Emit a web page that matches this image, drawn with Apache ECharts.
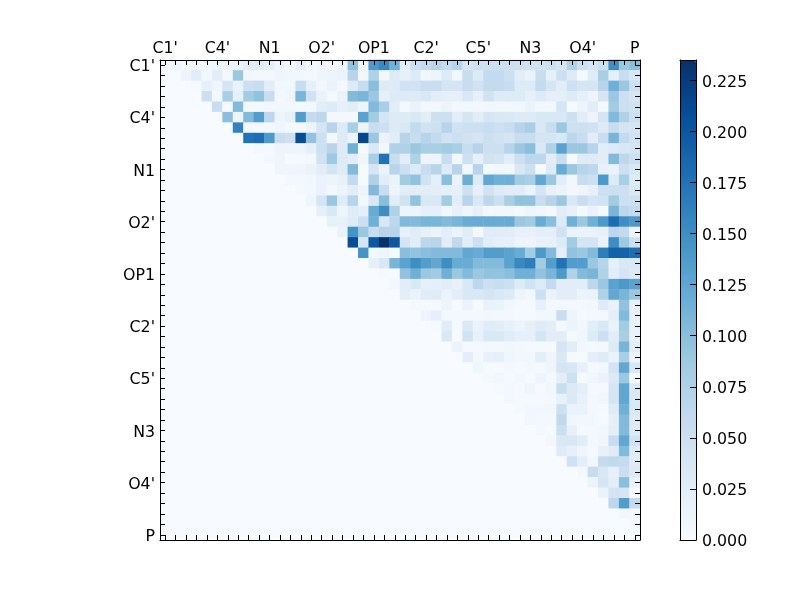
<!DOCTYPE html>
<html>
<head>
<meta charset="utf-8">
<style>html,body{margin:0;padding:0;background:#fff}#c{width:800px;height:600px}</style>
<script src="https://cdn.jsdelivr.net/npm/echarts@6/dist/echarts.min.js"></script>
</head>
<body>
<div id="c"></div>
<script>
const tickLabels = ["C1'","C4'","N1","O2'","OP1","C2'","C5'","N3","O4'","P"];
const labelEvery = 5;
const cellCount = 46;
const colorTicks = [0,0.025,0.05,0.075,0.1,0.125,0.15,0.175,0.2,0.225];
const blues = ['#f7fbff','#deebf7','#c6dbef','#9ecae1','#6baed6','#4292c6','#2171b5','#08519c','#08306b'];
const vmax = 0.235;
// Upper triangle, in thousandths: row r lists columns r+1 .. 45. Everything else is 0.
const upperRows = [
[12,4,4,8,10,12,15,25,27,20,9,6,20,6,9,5,9,95,7,140,155,115,25,50,60,70,60,70,40,50,50,50,50,50,45,45,50,40,75,50,40,50,150,90,100],
[12,25,8,25,6,90,7,6,6,10,8,8,6,10,12,15,70,8,75,7,30,20,30,8,12,30,8,55,30,60,60,50,25,15,55,20,50,30,3,28,80,20,55,35],
[4,20,10,40,15,50,55,25,8,8,55,20,8,15,5,30,55,100,30,30,45,45,55,55,40,40,55,45,60,60,55,30,30,60,40,25,50,40,40,70,115,90,50],
[50,5,80,20,85,95,55,6,10,110,45,15,3,15,105,110,90,20,30,30,30,35,25,20,20,35,20,45,30,30,30,20,30,22,22,30,20,12,40,90,50,40],
[55,4,105,6,5,7,7,7,6,5,25,30,20,25,12,105,80,25,4,15,6,8,12,6,8,6,7,8,8,8,15,8,8,40,2,12,25,6,85,50,45],
[100,10,105,135,65,12,18,135,60,65,5,5,5,130,85,40,30,30,35,25,50,50,25,40,25,40,35,35,30,30,35,35,35,50,25,12,40,105,75,50],
[160,6,3,6,10,5,6,12,40,70,30,80,12,55,50,30,35,60,45,50,70,45,50,50,55,50,55,70,80,35,55,90,50,50,45,30,55,40,40],
[175,180,140,55,50,210,95,50,8,30,12,215,90,15,25,70,55,70,60,45,50,45,40,50,45,40,55,55,40,40,35,65,55,25,55,110,60,45],
[5,4,12,12,10,20,50,70,30,115,3,35,7,75,75,90,80,80,85,80,55,70,50,50,70,90,100,35,75,130,90,90,70,25,30,35,40],
[6,10,2,3,6,45,88,30,25,10,80,175,55,25,75,12,12,55,6,50,20,45,40,25,50,65,65,25,55,3,28,28,25,105,65,50],
[10,10,10,15,25,40,28,105,4,40,15,70,50,30,55,70,30,70,5,70,4,8,8,35,50,2,30,120,90,70,65,18,15,50,35],
[5,6,8,15,12,18,60,2,75,25,15,85,95,45,22,100,15,118,30,125,115,115,85,80,125,90,25,8,55,50,140,30,80,30],
[4,6,15,5,12,25,12,105,55,12,25,25,25,25,22,20,50,20,45,30,25,25,14,40,18,14,7,11,18,50,50,50,35],
[10,40,90,28,70,8,35,100,25,45,95,35,35,85,25,70,35,65,50,80,95,95,55,70,90,35,55,42,45,85,50,50],
[20,35,10,28,22,120,150,75,12,12,20,20,8,18,10,18,6,7,7,4,10,7,4,25,18,4,15,4,110,65,60],
[18,18,28,50,115,35,65,105,105,110,110,105,110,120,120,120,120,120,90,85,120,100,30,115,90,115,140,180,150,140],
[15,145,90,55,70,70,18,27,18,14,24,14,27,6,27,27,25,18,18,22,22,45,15,15,15,18,65,60,12],
[210,40,200,235,200,40,25,65,70,25,62,25,50,25,20,20,12,12,18,18,30,85,40,40,15,150,88,50],
[145,8,10,3,100,95,100,105,105,105,125,120,135,135,130,120,85,140,105,22,95,90,105,165,190,190,180],
[20,35,110,130,150,135,125,150,120,120,105,105,105,130,155,165,85,135,175,135,135,90,70,20,35,35],
[4,1,95,115,90,85,115,90,105,90,95,95,100,115,115,95,110,140,75,105,110,75,25,40,30],
[6,25,35,20,22,25,18,35,65,50,55,50,30,45,30,60,25,25,25,65,90,130,140,130],
[24,15,27,28,14,25,35,35,40,35,30,12,8,50,15,25,25,13,15,75,125,110,90],
[4,4,4,12,1,15,1,17,15,7,3,3,20,6,6,5,6,8,28,17,95,18],
[12,20,6,6,6,6,7,5,5,3,3,7,8,55,12,4,5,6,22,105,18],
[3,27,4,33,15,27,25,18,12,20,28,23,3,14,8,25,35,15,85,15],
[35,1,45,18,35,35,27,20,20,40,25,25,3,9,30,50,25,80,15],
[14,3,3,5,5,7,6,4,4,3,40,25,7,3,6,30,110,25],
[23,6,18,20,9,7,8,23,10,35,4,2,22,28,15,80,12],
[9,2,2,5,4,5,3,11,40,37,18,4,8,42,125,35],
[4,7,4,8,3,12,4,23,50,4,9,15,32,90,2],
[1,5,3,10,2,8,55,32,23,4,4,40,125,33],
[5,4,4,3,5,18,33,18,5,9,40,125,33],
[3,7,7,7,50,15,15,6,4,28,115,35],
[7,5,5,62,9,8,8,2,20,105,32],
[6,2,52,18,3,5,8,22,105,30],
[7,35,37,27,5,9,55,125,45],
[28,20,10,4,18,28,105,27],
[48,23,7,58,63,58,28],
[5,57,36,20,52,32],
[13,40,23,100,15],
[15,42,40,3],
[65,135,60],
[8,5],
[4]
];

const indices = Array.from({length: cellCount}, (_, i) => String(i));
const cells = [];
for (let r = 0; r < cellCount; r++) {
  const row = upperRows[r] || [];
  for (let c = 0; c < cellCount; c++) {
    const k = c - r - 1;
    const v = k >= 0 && k < row.length ? row[k] / 1000 : 0;
    cells.push([c, r, v]);
  }
}
const labelFor = v => {
  const i = +v;
  return i % labelEvery === 0 ? (tickLabels[i / labelEvery] || '') : '';
};
const font = {fontFamily: 'DejaVu Sans', fontSize: 15.8, color: '#000'};
// Rich style that nudges the text down so it sits on its tick, as in the reference.
const nudged = {a: Object.assign({padding: [4, 0, 0, 0]}, font)};
const wrap = s => s ? '{a|' + s + '}' : '';
const line = {show: true, onZero: false, lineStyle: {color: '#000', width: 1}};
const catAxis = (extra, label, len) => Object.assign({
  type: 'category',
  data: indices,
  z: 5,
  axisLine: line,
  axisTick: {show: true, inside: true, length: len, alignWithLabel: true, interval: 0, lineStyle: {color: '#000', width: 1}},
  axisLabel: label ? Object.assign({show: true, interval: labelEvery - 1}, font, label) : {show: false},
  splitLine: {show: false},
  splitArea: {show: false}
}, extra);

const chart = echarts.init(document.getElementById('c'), null, {renderer: 'canvas'});
chart.setOption({
  animation: false,
  backgroundColor: '#fff',
  grid: [
    {left: 160, top: 60, width: 480, height: 480, containLabel: false},
    {left: 680, top: 60, width: 16, height: 480, containLabel: false, z: 10}
  ],
  xAxis: [
    catAxis({position: 'top', gridIndex: 0}, {margin: 3, formatter: labelFor}, 5),
    catAxis({position: 'bottom', gridIndex: 0}, null, 5),
    {gridIndex: 1, type: 'value', min: 0, max: 1, position: 'top', z: 10, axisLine: line, axisTick: {show: false}, axisLabel: {show: false}, splitLine: {show: false}},
    {gridIndex: 1, type: 'value', min: 0, max: 1, position: 'bottom', z: 10, axisLine: line, axisTick: {show: false}, axisLabel: {show: false}, splitLine: {show: false}}
  ],
  yAxis: [
    catAxis({position: 'left', gridIndex: 0, inverse: true}, {margin: 5, rich: nudged, formatter: v => wrap(labelFor(v))}, 5),
    catAxis({position: 'right', gridIndex: 0, inverse: true}, null, 5),
    {gridIndex: 1, type: 'value', min: 0, max: vmax, interval: colorTicks[1], position: 'right', z: 10,
     axisLine: line,
     axisTick: {show: true, inside: true, length: 6, lineStyle: {color: '#000', width: 1}},
     axisLabel: Object.assign({show: true, margin: 6, showMaxLabel: false, rich: nudged, formatter: v => colorTicks.some(t => Math.abs(t - v) < 1e-6) ? wrap(v.toFixed(3)) : ''}, font),
     splitLine: {show: false}},
    {gridIndex: 1, type: 'value', min: 0, max: vmax, position: 'left', z: 10, axisLine: line, axisTick: {show: false}, axisLabel: {show: false}, splitLine: {show: false}}
  ],
  visualMap: {
    type: 'continuous', min: 0, max: vmax, seriesIndex: 0, calculable: false, realtime: false, hoverLink: false,
    left: 680, top: 60, itemWidth: 16, itemHeight: 480, padding: 0, text: null, showLabel: false,
    inRange: {color: blues}
  },
  series: [{
    type: 'heatmap', xAxisIndex: 0, yAxisIndex: 0, data: cells, progressive: 0,
    itemStyle: {borderWidth: 0}, emphasis: {disabled: true}, silent: true
  }]
});
</script>
</body>
</html>
